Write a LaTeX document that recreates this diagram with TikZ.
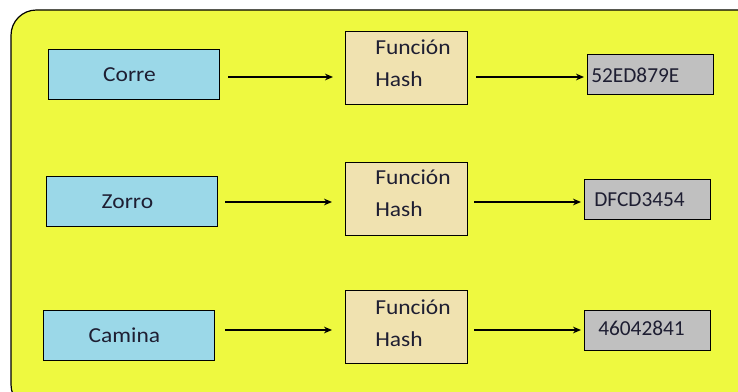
\documentclass[tikz,border=0pt]{standalone}
\usepackage{fontspec}
\setmainfont[FakeStretch=1.1]{Carlito}
\newfontfamily\codefont{Carlito}
\usetikzlibrary{arrows.meta}
\definecolor{panel}{RGB}{238,249,64}
\definecolor{wordfill}{RGB}{155,216,232}
\definecolor{hashfill}{RGB}{240,226,176}
\definecolor{outfill}{RGB}{192,192,192}
\definecolor{ink}{RGB}{30,30,50}
\tikzset{
  box/.style={draw=black, line width=0.9pt, inner sep=0pt, anchor=north west},
  wordbox/.style={box, fill=wordfill, minimum width=171*0.75pt, minimum height=50*0.75pt},
  hashbox/.style={box, fill=hashfill, minimum width=122*0.75pt, minimum height=73*0.75pt},
  outbox/.style={box, fill=outfill, minimum width=126*0.75pt, minimum height=40*0.75pt},
  txt/.style={font=\fontsize{16pt}{23.5pt}\selectfont, text=ink},
  hashtxt/.style={txt, align=left, anchor=north west, inner sep=0pt},
  outtxt/.style={font=\codefont\fontsize{16pt}{18pt}\selectfont, text=ink, anchor=west, inner sep=0pt},
  link/.style={draw=black, line width=0.9pt, -{Stealth[length=6pt,width=5pt]}}
}
\begin{document}
\begin{tikzpicture}[x=0.75pt,y=-0.75pt]
  \useasboundingbox (0,0) rectangle (738,392);
  \fill[white] (0,0) rectangle (738,392);
  % rounded yellow panel running off the right and bottom edges
  \draw[fill=panel, line width=0.9pt, rounded corners=19pt] (11,10) rectangle (770,410);

  % row 1
  \node[wordbox] (w1) at (48,49) {};
  \node[txt] at ([xshift=-3.5pt]w1.center) {Corre};
  \node[hashbox] (h1) at (345,31) {};
  \node[hashtxt] at (375,40) {Función\\Hash};
  \node[outbox] (o1) at (587,54) {};
  \node[outtxt] at (591,75) {52ED879E};
  \coordinate (a1s) at (228,77);
  \coordinate (a1e) at (333,77);
  \coordinate (b1s) at (476,77);
  \coordinate (b1e) at (584,77);
  \draw[link] (a1s) -- (a1e);
  \draw[link] (b1s) -- (b1e);

  % row 2
  \node[wordbox] (w2) at (46,176) {};
  \node[txt] at ([xshift=-3.5pt]w2.center) {Zorro};
  \node[hashbox] (h2) at (345,162) {};
  \node[hashtxt] at (375,170) {Función\\Hash};
  \node[outbox] (o2) at (584,179) {};
  \node[outtxt] at (594,200) {DFCD3454};
  \coordinate (a2s) at (225,202);
  \coordinate (a2e) at (332,202);
  \coordinate (b2s) at (474,202);
  \coordinate (b2e) at (581,202);
  \draw[link] (a2s) -- (a2e);
  \draw[link] (b2s) -- (b2e);

  % row 3
  \node[wordbox] (w3) at (43,310) {};
  \node[txt] at ([xshift=-3.5pt]w3.center) {Camina};
  \node[hashbox] (h3) at (345,290) {};
  \node[hashtxt] at (375,300) {Función\\Hash};
  \node[outbox] (o3) at (584,310) {};
  \node[outtxt] at (598,328) {46042841};
  \coordinate (a3s) at (225,330);
  \coordinate (a3e) at (332,330);
  \coordinate (b3s) at (474,330);
  \coordinate (b3e) at (581,330);
  \draw[link] (a3s) -- (a3e);
  \draw[link] (b3s) -- (b3e);
\end{tikzpicture}
\end{document}
